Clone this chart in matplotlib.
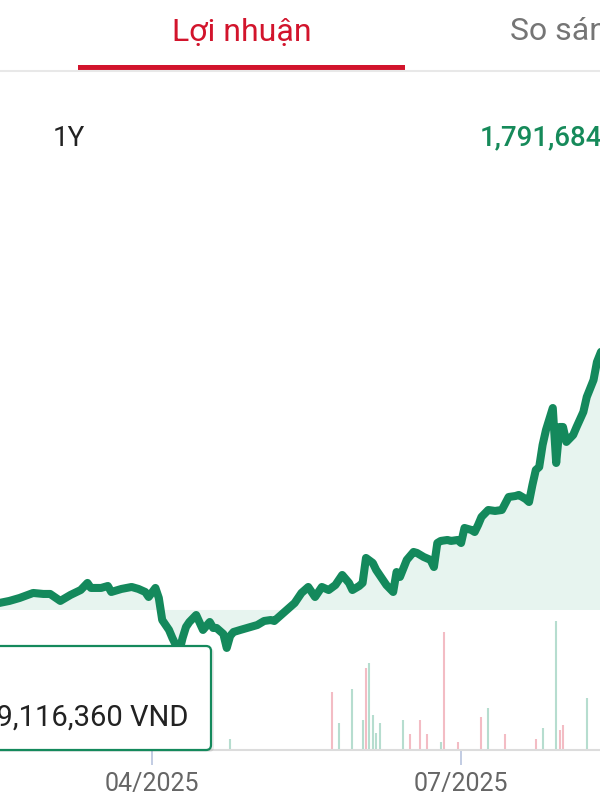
import datetime as dt
import matplotlib
matplotlib.use('Agg')
import matplotlib.pyplot as plt
import matplotlib.dates as mdates
from matplotlib.patches import FancyBboxPatch, Rectangle

plt.rcParams['font.family'] = ['Roboto', 'DejaVu Sans']

# profit curve (million VND)
line_dates = ['2025-02-15', '2025-02-18', '2025-02-21', '2025-02-25', '2025-02-28',
              '2025-03-02', '2025-03-05', '2025-03-08', '2025-03-11', '2025-03-13',
              '2025-03-14', '2025-03-17', '2025-03-19', '2025-03-20', '2025-03-23',
              '2025-03-26', '2025-03-28', '2025-03-30', '2025-03-31', '2025-04-02',
              '2025-04-03', '2025-04-04', '2025-04-06', '2025-04-07', '2025-04-09',
              '2025-04-10', '2025-04-11', '2025-04-12', '2025-04-14', '2025-04-16',
              '2025-04-18', '2025-04-19', '2025-04-20', '2025-04-22', '2025-04-23',
              '2025-04-24', '2025-04-25', '2025-04-27', '2025-04-30', '2025-05-02',
              '2025-05-04', '2025-05-06', '2025-05-07', '2025-05-09', '2025-05-11',
              '2025-05-13', '2025-05-15', '2025-05-17', '2025-05-19', '2025-05-21',
              '2025-05-23', '2025-05-25', '2025-05-27', '2025-05-29', '2025-05-30',
              '2025-06-01', '2025-06-02', '2025-06-03', '2025-06-05', '2025-06-06',
              '2025-06-08', '2025-06-09', '2025-06-11', '2025-06-12', '2025-06-13',
              '2025-06-15', '2025-06-17', '2025-06-18', '2025-06-20', '2025-06-22',
              '2025-06-23', '2025-06-24', '2025-06-25', '2025-06-27', '2025-06-28',
              '2025-06-30', '2025-07-01', '2025-07-02', '2025-07-04', '2025-07-05',
              '2025-07-06', '2025-07-07', '2025-07-09', '2025-07-11', '2025-07-13',
              '2025-07-15', '2025-07-17', '2025-07-18', '2025-07-20', '2025-07-21',
              '2025-07-22', '2025-07-23', '2025-07-24', '2025-07-25', '2025-07-26',
              '2025-07-28', '2025-07-29', '2025-07-30', '2025-07-31', '2025-08-01',
              '2025-08-03', '2025-08-04', '2025-08-06', '2025-08-07', '2025-08-09',
              '2025-08-10', '2025-08-12']
profit = [7.8, 10.1, 13.4, 19.0, 17.9,
          17.9, 10.1, 16.8, 22.3, 30.2,
          24.6, 24.6, 26.8, 20.1, 23.5,
          25.7, 23.5, 20.1, 14.5, 24.6,
          13.4, -11.2, -22.3, -31.3, -46.9,
          -31.3, -19.0, -13.4, -5.6, -22.3,
          -13.4, -20.1, -20.1, -26.8, -42.4,
          -29.0, -24.6, -22.3, -19.0, -16.8,
          -12.3, -11.2, -12.3, -5.6, 1.1,
          7.8, 19.0, 25.7, 14.5, 25.7,
          22.3, 27.9, 39.1, 30.2, 22.3,
          26.8, 30.2, 58.1, 52.5, 44.7,
          33.5, 27.9, 20.1, 42.4, 36.9,
          55.9, 64.8, 63.7, 59.2, 55.9,
          48.0, 74.8, 77.1, 78.2, 77.1,
          78.2, 74.8, 91.6, 89.4, 87.1,
          94.9, 103.9, 111.7, 110.6, 111.7,
          126.2, 127.3, 128.5, 124.0, 120.6,
          139.6, 156.4, 159.7, 184.3, 201.1,
          225.6, 164.2, 204.4, 204.4, 187.7,
          195.5, 204.4, 221.2, 237.9, 256.9,
          277.0, 296.0]

# trade values (million VND): buy = green, sell = pink
vol_dates = ['2025-04-24', '2025-05-24', '2025-05-26', '2025-05-30', '2025-06-02',
             '2025-06-03', '2025-06-04', '2025-06-05', '2025-06-06', '2025-06-07',
             '2025-06-14', '2025-06-16', '2025-06-19', '2025-06-21', '2025-06-25',
             '2025-06-26', '2025-06-30', '2025-07-07', '2025-07-09', '2025-07-14',
             '2025-07-23', '2025-07-25', '2025-07-29', '2025-07-30', '2025-07-31',
             '2025-08-07']
vol_values = [16, 87, 40, 92, 45,
              123, 130, 52, 25, 40,
              45, 24, 45, 24, 12,
              177, 12, 50, 63, 24,
              16, 33, 194, 30, 38,
              78]
vol_side = ['buy', 'sell', 'buy', 'buy', 'buy',
            'sell', 'buy', 'buy', 'buy', 'buy',
            'buy', 'sell', 'sell', 'sell', 'buy',
            'sell', 'sell', 'sell', 'buy', 'sell',
            'sell', 'buy', 'buy', 'sell', 'sell',
            'buy']

tick_dates = ['2025-04-01', '2025-07-01']
tick_labels = ['04/2025', '07/2025']

green = '#14895c'
fill_green = '#e7f4ef'
red = '#d2142c'

x = [dt.datetime.strptime(d, '%Y-%m-%d') for d in line_dates]
vx = [dt.datetime.strptime(d, '%Y-%m-%d') for d in vol_dates]
vcol = ['#b6ddcf' if s == 'buy' else '#f3bcc4' for s in vol_side]

fig = plt.figure(figsize=(6, 8), dpi=100)
fig.patch.set_facecolor('white')

apr1 = mdates.date2num(dt.datetime(2025, 4, 1))
xmin, xmax = apr1 - 44.76, apr1 + 131.9
rect = [0, 50 / 800, 1, 660 / 800]

# volume axes (carries the date axis)
vax = fig.add_axes(rect, zorder=1)
vax.vlines(vx, 0, vol_values, colors=vcol, lw=1.5)
vax.set_xlim(xmin, xmax)
vax.set_ylim(0, 990)
for s in ['top', 'left', 'right']:
    vax.spines[s].set_visible(False)
vax.spines['bottom'].set_color('#dcdcdc')
vax.spines['bottom'].set_linewidth(1.5)
vax.set_yticks([])
vax.set_xticks([dt.datetime.strptime(d, '%Y-%m-%d') for d in tick_dates])
vax.set_xticklabels(tick_labels)
vax.tick_params(axis='x', direction='out', length=11, width=1.2, color='#b8c4de',
                labelcolor='#666666', labelsize=18, pad=5)

# profit line
ax = fig.add_axes(rect, zorder=2)
ax.patch.set_alpha(0)
ax.fill_between(x, profit, 0, color=fill_green, lw=0)
ax.plot(x, profit, color=green, lw=5.8, solid_capstyle='round', solid_joinstyle='round')
ax.set_xlim(xmin, xmax)
ax.set_ylim(-156.4, 580.8)
ax.axis('off')

# header + tooltip overlay in pixel coords
oax = fig.add_axes([0, 0, 1, 1], zorder=5)
oax.set_xlim(0, 600)
oax.set_ylim(800, 0)
oax.axis('off')
oax.patch.set_alpha(0)

oax.plot([0, 600], [71, 71], color='#e8e8e8', lw=1.5)
oax.add_patch(Rectangle((78, 65), 327, 5, color=red, lw=0))
oax.text(242, 32, 'Lợi nhuận', color=red, fontsize=23, ha='center', va='center')
oax.text(510, 32, 'So sánh', color='#757575', fontsize=23, ha='left', va='center')
oax.text(53, 138, '1Y', color='#222222', fontsize=20, ha='left', va='center')
oax.text(480, 138, '1,791,684', color='#168a5a', fontsize=20, fontweight='medium',
         ha='left', va='center')

oax.add_patch(FancyBboxPatch((-20, 648), 234, 104, boxstyle='round,pad=0,rounding_size=5',
                             fc='#000000', ec='none', alpha=0.08))
oax.add_patch(FancyBboxPatch((-20, 646), 231, 104, boxstyle='round,pad=0,rounding_size=5',
                             fc='white', ec=green, lw=1.6))
oax.text(188, 718, '-39,116,360 VND', color='#222222', fontsize=21, ha='right', va='center')

fig.savefig('out.png', dpi=100)
